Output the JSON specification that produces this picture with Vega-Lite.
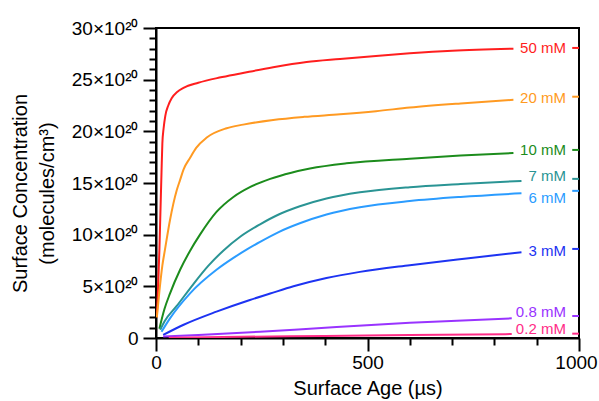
{
  "$schema": "https://vega.github.io/schema/vega-lite/v6.json",
  "width": 423,
  "height": 310,
  "autosize": {"type": "none"},
  "padding": {"left": 156, "top": 28, "right": 20, "bottom": 63},
  "config": {
    "font": "Liberation Sans",
    "view": {"stroke": "black", "strokeWidth": 2}
  },
  "datasets": {
    "curves": [
      {"series":"50 mM","age":2,"conc":2.0},{"series":"50 mM","age":5,"conc":5},{"series":"50 mM","age":8,"conc":8.5},{"series":"50 mM","age":11,"conc":13},{"series":"50 mM","age":13,"conc":16},{"series":"50 mM","age":15,"conc":18.8},{"series":"50 mM","age":18,"conc":20.3},{"series":"50 mM","age":22,"conc":21.5},{"series":"50 mM","age":29,"conc":22.5},{"series":"50 mM","age":37,"conc":23.2},{"series":"50 mM","age":50,"conc":23.8},{"series":"50 mM","age":65,"conc":24.2},{"series":"50 mM","age":100,"conc":24.7},{"series":"50 mM","age":150,"conc":25.2},{"series":"50 mM","age":200,"conc":25.6},{"series":"50 mM","age":277,"conc":26.2},{"series":"50 mM","age":356,"conc":26.7},{"series":"50 mM","age":435,"conc":27.0},{"series":"50 mM","age":520,"conc":27.3},{"series":"50 mM","age":600,"conc":27.55},{"series":"50 mM","age":700,"conc":27.8},{"series":"50 mM","age":845,"conc":28.0},
      {"series":"20 mM","age":2,"conc":2.0},{"series":"20 mM","age":8,"conc":4.5},{"series":"20 mM","age":15,"conc":7.0},{"series":"20 mM","age":21,"conc":8.5},{"series":"20 mM","age":33,"conc":11.4},{"series":"20 mM","age":49,"conc":14.3},{"series":"20 mM","age":57,"conc":15.3},{"series":"20 mM","age":65,"conc":16.3},{"series":"20 mM","age":80,"conc":17.4},{"series":"20 mM","age":95,"conc":18.4},{"series":"20 mM","age":120,"conc":19.4},{"series":"20 mM","age":167,"conc":20.3},{"series":"20 mM","age":206,"conc":20.65},{"series":"20 mM","age":277,"conc":21.1},{"series":"20 mM","age":350,"conc":21.4},{"series":"20 mM","age":435,"conc":21.65},{"series":"20 mM","age":520,"conc":21.95},{"series":"20 mM","age":600,"conc":22.3},{"series":"20 mM","age":720,"conc":22.7},{"series":"20 mM","age":845,"conc":23.05},
      {"series":"10 mM","age":8,"conc":0.9},{"series":"10 mM","age":20,"conc":2.8},{"series":"10 mM","age":33,"conc":4.3},{"series":"10 mM","age":57,"conc":6.6},{"series":"10 mM","age":80,"conc":8.4},{"series":"10 mM","age":104,"conc":10.0},{"series":"10 mM","age":143,"conc":12.2},{"series":"10 mM","age":183,"conc":13.65},{"series":"10 mM","age":222,"conc":14.6},{"series":"10 mM","age":270,"conc":15.4},{"series":"10 mM","age":320,"conc":16.0},{"series":"10 mM","age":364,"conc":16.4},{"series":"10 mM","age":450,"conc":16.9},{"series":"10 mM","age":600,"conc":17.35},{"series":"10 mM","age":720,"conc":17.65},{"series":"10 mM","age":845,"conc":17.9},
      {"series":"7 mM","age":10,"conc":0.8},{"series":"7 mM","age":20,"conc":1.6},{"series":"7 mM","age":49,"conc":3.1},{"series":"7 mM","age":88,"conc":5.2},{"series":"7 mM","age":124,"conc":7.0},{"series":"7 mM","age":159,"conc":8.45},{"series":"7 mM","age":199,"conc":9.8},{"series":"7 mM","age":246,"conc":11.0},{"series":"7 mM","age":290,"conc":11.95},{"series":"7 mM","age":340,"conc":12.75},{"series":"7 mM","age":403,"conc":13.5},{"series":"7 mM","age":482,"conc":14.1},{"series":"7 mM","age":600,"conc":14.6},{"series":"7 mM","age":720,"conc":14.9},{"series":"7 mM","age":864,"conc":15.2},
      {"series":"6 mM","age":13,"conc":0.6},{"series":"6 mM","age":33,"conc":1.9},{"series":"6 mM","age":80,"conc":4.3},{"series":"6 mM","age":143,"conc":6.6},{"series":"6 mM","age":183,"conc":7.75},{"series":"6 mM","age":214,"conc":8.55},{"series":"6 mM","age":246,"conc":9.3},{"series":"6 mM","age":290,"conc":10.25},{"series":"6 mM","age":340,"conc":11.1},{"series":"6 mM","age":403,"conc":11.95},{"series":"6 mM","age":482,"conc":12.65},{"series":"6 mM","age":600,"conc":13.25},{"series":"6 mM","age":720,"conc":13.65},{"series":"6 mM","age":864,"conc":14.0},
      {"series":"3 mM","age":17,"conc":0.3},{"series":"3 mM","age":64,"conc":1.26},{"series":"3 mM","age":143,"conc":2.55},{"series":"3 mM","age":222,"conc":3.68},{"series":"3 mM","age":270,"conc":4.3},{"series":"3 mM","age":325,"conc":5.0},{"series":"3 mM","age":403,"conc":5.8},{"series":"3 mM","age":482,"conc":6.4},{"series":"3 mM","age":600,"conc":7.05},{"series":"3 mM","age":734,"conc":7.7},{"series":"3 mM","age":864,"conc":8.3},
      {"series":"0.8 mM","age":17,"conc":0.15},{"series":"0.8 mM","age":100,"conc":0.3},{"series":"0.8 mM","age":246,"conc":0.6},{"series":"0.8 mM","age":400,"conc":1.0},{"series":"0.8 mM","age":600,"conc":1.48},{"series":"0.8 mM","age":841,"conc":1.9},
      {"series":"0.2 mM","age":30,"conc":0.03},{"series":"0.2 mM","age":200,"conc":0.12},{"series":"0.2 mM","age":400,"conc":0.2},{"series":"0.2 mM","age":600,"conc":0.29},{"series":"0.2 mM","age":841,"conc":0.38}
    ],
    "labels": [
      {"series":"50 mM","labelY":28.1,"tickY":28.07},
      {"series":"20 mM","labelY":23.2,"tickY":23.35},
      {"series":"10 mM","labelY":18.2,"tickY":18.2},
      {"series":"7 mM","labelY":15.72,"tickY":15.4},
      {"series":"6 mM","labelY":13.57,"tickY":14.24},
      {"series":"3 mM","labelY":8.43,"tickY":8.62},
      {"series":"0.8 mM","labelY":2.52,"tickY":2.13},
      {"series":"0.2 mM","labelY":0.87,"tickY":0.42}
    ]
  },
  "encoding": {
    "x": {
      "type": "quantitative",
      "scale": {"domain": [0, 1000], "nice": false, "zero": false},
      "axis": {
        "title": "Surface Age (µs)",
        "values": [0,100,200,300,400,500,600,700,800,900,1000],
        "labelExpr": "datum.value % 500 === 0 ? '' + datum.value : ''",
        "labelFlush": false,
        "labelOverlap": false,
        "labelFontSize": 19,
        "labelColor": "black",
        "labelPadding": 2,
        "labelOffset": {"condition": {"test": "datum.value === 1000", "value": -3}, "value": 0},
        "tickColor": "black",
        "tickWidth": 2,
        "tickSize": {"condition": {"test": "datum.value % 500 === 0", "value": 13}, "value": 7},
        "domainColor": "black",
        "domainWidth": 2,
        "grid": false,
        "titleFontSize": 20,
        "titleFontWeight": "normal",
        "titleColor": "black",
        "titleBaseline": "alphabetic",
        "titleY": 56
      }
    },
    "y": {
      "type": "quantitative",
      "scale": {"domain": [0, 30], "nice": false},
      "axis": {
        "title": ["Surface Concentration", "(molecules/cm³)"],
        "values": [0,1,2,3,4,5,6,7,8,9,10,11,12,13,14,15,16,17,18,19,20,21,22,23,24,25,26,27,28,29,30],
        "labelExpr": "datum.value === 0 ? '0' : (datum.value % 5 === 0 ? datum.value + '×10²⁰' : '')",
        "labelOverlap": false,
        "labelFontSize": 19,
        "labelColor": "black",
        "labelPadding": 5,
        "tickColor": "black",
        "tickWidth": 2,
        "tickSize": {"condition": {"test": "datum.value % 5 === 0", "value": 13}, "value": 7},
        "domainColor": "black",
        "domainWidth": 2,
        "grid": false,
        "titleFontSize": 20,
        "titleFontWeight": "normal",
        "titleColor": "black",
        "titleAngle": -90,
        "titleAlign": "center",
        "titleBaseline": "middle",
        "titleLineHeight": 27,
        "titleX": -136,
        "titleY": 165
      }
    },
    "color": {
      "field": "series", "type": "nominal",
      "scale": {
        "domain": ["50 mM","20 mM","10 mM","7 mM","6 mM","3 mM","0.8 mM","0.2 mM"],
        "range": ["#ff1e1e","#ff9a22","#1c8c1c","#2a9494","#2b9cff","#1d33f2","#9933ff","#ff2d87"]
      },
      "legend": null
    }
  },
  "layer": [
    {
      "data": {"name": "curves"},
      "mark": {"type": "line", "strokeWidth": 2, "clip": true, "interpolate": "monotone"},
      "encoding": {
        "x": {"field": "age"},
        "y": {"field": "conc"}
      }
    },
    {
      "data": {"name": "labels"},
      "mark": {"type": "text", "align": "right", "baseline": "middle", "fontSize": 15},
      "encoding": {
        "x": {"datum": 969},
        "y": {"field": "labelY"},
        "text": {"field": "series"}
      }
    },
    {
      "data": {"name": "labels"},
      "mark": {"type": "rule", "strokeWidth": 2},
      "encoding": {
        "x": {"datum": 984},
        "x2": {"datum": 1000},
        "y": {"field": "tickY"}
      }
    }
  ]
}
